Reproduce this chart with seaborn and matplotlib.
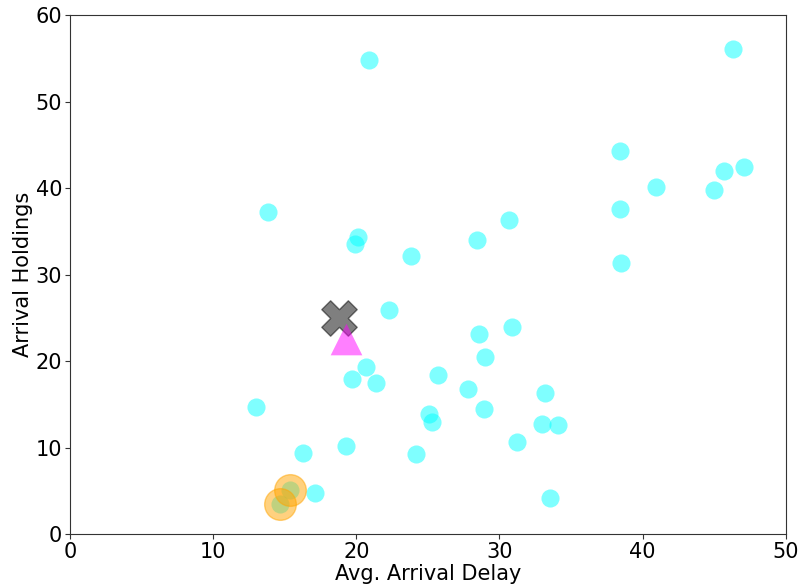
import numpy as np
import pandas as pd
import matplotlib
matplotlib.use('Agg')
import matplotlib.pyplot as plt
import seaborn as sns

# all airports
delay = [20.9, 46.3, 38.4, 40.9, 45.0, 45.7, 47.1, 38.4, 38.5, 13.8,
         30.7, 28.4, 20.1, 19.9, 23.8, 22.3, 30.9, 28.6, 29.0, 20.7,
         19.7, 21.4, 25.7, 27.8, 33.2, 13.0, 28.9, 25.1, 25.3, 33.0,
         34.1, 31.2, 19.3, 16.3, 24.2, 33.5, 17.1, 14.7, 15.4]
holdings = [54.8, 56.1, 44.3, 40.1, 39.8, 42.0, 42.4, 37.6, 31.3, 37.2,
            36.3, 34.0, 34.4, 33.6, 32.2, 25.9, 24.0, 23.1, 20.5, 19.3,
            17.9, 17.5, 18.4, 16.8, 16.3, 14.7, 14.5, 13.9, 12.9, 12.7,
            12.6, 10.6, 10.2, 9.4, 9.2, 4.2, 4.7, 3.5, 5.1]

# highlighted airports
hi_delay = [14.7, 15.4]
hi_holdings = [3.5, 5.1]

# centroid and target
center_delay = [18.8]
center_holdings = [25.0]
target_delay = [19.3]
target_holdings = [22.6]

df = pd.DataFrame({'delay': delay, 'holdings': holdings})
hi = pd.DataFrame({'delay': hi_delay, 'holdings': hi_holdings})
cen = pd.DataFrame({'delay': center_delay, 'holdings': center_holdings})
tgt = pd.DataFrame({'delay': target_delay, 'holdings': target_holdings})

sns.set_style('ticks')
plt.rcParams['text.color'] = 'black'
plt.rcParams['axes.labelcolor'] = 'black'
plt.rcParams['xtick.color'] = 'black'
plt.rcParams['ytick.color'] = 'black'
fig, ax = plt.subplots(figsize=(8.01, 5.86), dpi=100)
fig.subplots_adjust(left=0.0874, right=0.981, top=0.974, bottom=0.0887)

sns.scatterplot(data=df, x='delay', y='holdings', color='cyan', alpha=0.5,
                s=170, linewidth=0, ax=ax)
sns.scatterplot(data=hi, x='delay', y='holdings', color='orange', alpha=0.5,
                s=520, edgecolor='orange', linewidth=1, ax=ax)
sns.scatterplot(data=cen, x='delay', y='holdings', color='black', alpha=0.5,
                marker='X', s=650, edgecolor='black', linewidth=1, ax=ax)
sns.scatterplot(data=tgt, x='delay', y='holdings', color='magenta', alpha=0.5,
                marker='^', s=520, linewidth=0, ax=ax)

ax.set_xlim(0, 50)
ax.set_ylim(0, 60)
ax.set_xlabel('Avg. Arrival Delay', fontsize=15, labelpad=2)
ax.set_ylabel('Arrival Holdings', fontsize=15, labelpad=2)
ax.tick_params(labelsize=15, length=3.5, color='#333333', pad=2)
for sp in ax.spines.values():
    sp.set_color('#333333')
    sp.set_linewidth(0.8)

fig.savefig('out.png', dpi=100)
